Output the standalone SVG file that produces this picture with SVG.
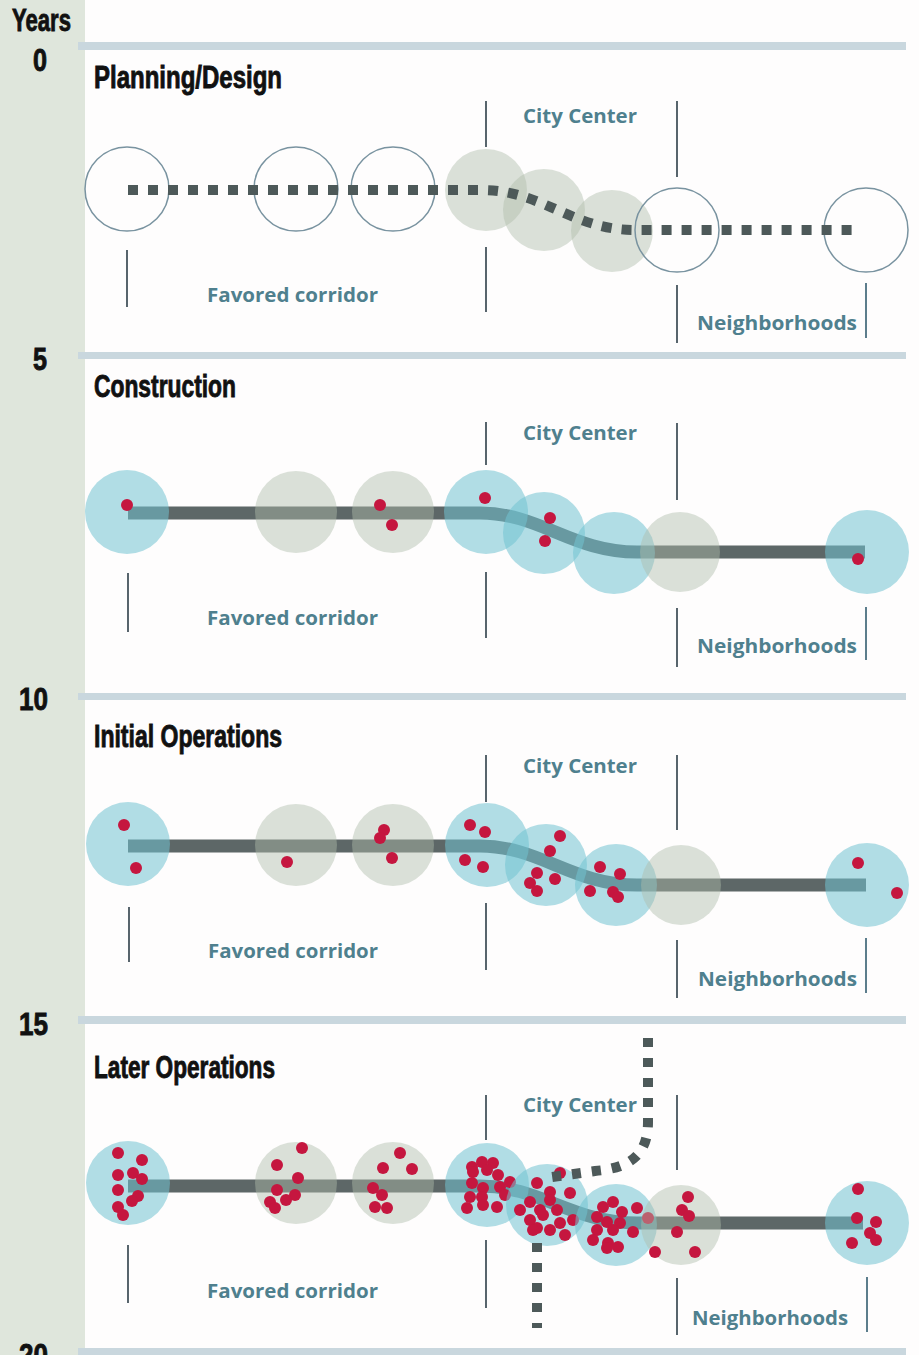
<svg xmlns="http://www.w3.org/2000/svg" xmlns:xlink="http://www.w3.org/1999/xlink" width="919" height="1355" viewBox="0 0 919 1355">
<style>
.title{font-family:"Liberation Sans Narrow","Liberation Sans",Arial,sans-serif;font-weight:bold;font-size:32px;fill:#111;stroke:#111;stroke-width:0.9}
.yr{font-family:"Liberation Sans Narrow","Liberation Sans",Arial,sans-serif;font-weight:bold;font-size:32px;fill:#111;stroke:#111;stroke-width:0.9}
.lbl{font-family:"Open Sans","Liberation Sans",sans-serif;font-weight:700;font-size:19px;fill:#4f808e}
.bar{fill:#c9d7de}
.vl{stroke:#2f3f49;stroke-width:1.6;fill:none}
.vr{stroke:#5c7d8c;stroke-width:2;fill:none}
.ring{fill:none;stroke:#7993a0;stroke-width:1.5}
.blue{fill:#71c3d2;fill-opacity:0.55}
.grey{fill:#b0bdaa;fill-opacity:0.45}
.dot{fill:#c5163f}
.track{fill:none;stroke:#5d6767;stroke-width:13}
.dash{fill:none;stroke:#4d5959;stroke-width:10;stroke-dasharray:10 10}
.dashv{fill:none;stroke:#4d5959;stroke-width:10;stroke-dasharray:9 11}
</style>
<rect x="0" y="0" width="919" height="1355" fill="#fefdfd"/>
<rect x="0" y="0" width="85" height="1355" fill="#dfe6dc"/>

<g id="timeline">
<text class="yr" x="12" y="31" textLength="59" lengthAdjust="spacingAndGlyphs">Years</text>
<text class="yr" x="33" y="71" textLength="14" lengthAdjust="spacingAndGlyphs">0</text>
<text class="yr" x="33" y="370" textLength="14" lengthAdjust="spacingAndGlyphs">5</text>
<text class="yr" x="19" y="710" textLength="29" lengthAdjust="spacingAndGlyphs">10</text>
<text class="yr" x="19" y="1035" textLength="29" lengthAdjust="spacingAndGlyphs">15</text>
<text class="yr" x="19" y="1366" textLength="29" lengthAdjust="spacingAndGlyphs">20</text>
</g>

<g id="bars">
<rect class="bar" x="78" y="42" width="828" height="8"/>
<rect class="bar" x="78" y="352" width="828" height="7"/>
<rect class="bar" x="78" y="693" width="828" height="7"/>
<rect class="bar" x="78" y="1016" width="828" height="8"/>
<rect class="bar" x="78" y="1348" width="828" height="7"/>
</g>

<!-- Panel 1: Planning/Design -->
<g id="panel1">
<text class="title" x="94" y="88" textLength="188" lengthAdjust="spacingAndGlyphs">Planning/Design</text>
<text class="lbl" x="523" y="123" textLength="114" lengthAdjust="spacingAndGlyphs">City Center</text>
<text class="lbl" x="207" y="302" textLength="171" lengthAdjust="spacingAndGlyphs">Favored corridor</text>
<text class="lbl" x="697" y="330" textLength="160" lengthAdjust="spacingAndGlyphs">Neighborhoods</text>
<path class="vl" d="M486,101V147M486,247V312M677,101V177M677,285V343M127,250V307"/>
<path class="vr" d="M866,283V338"/>
<g id="p1-s1"><circle class="ring" cx="127" cy="189" r="42"/></g>
<g id="p1-s2"><circle class="ring" cx="296" cy="189" r="42"/></g>
<g id="p1-s3"><circle class="ring" cx="393" cy="189" r="42"/></g>
<g id="p1-s4"><circle class="grey" cx="486" cy="190" r="41"/></g>
<g id="p1-s5"><circle class="grey" cx="544" cy="210" r="41"/></g>
<g id="p1-s6"><circle class="grey" cx="612" cy="231" r="41"/></g>
<g id="p1-s7"><circle class="ring" cx="677" cy="230" r="42"/></g>
<g id="p1-s8"><circle class="ring" cx="866" cy="230" r="42"/></g>
</g>

<g id="connectors">
<path class="dash" d="M128,190H482C542,190 572,230 635,230H860"/>
<path class="track" d="M128,513H480C540,513 572,552 637,552H865"/>
<path class="track" d="M128,846H480C540,846 572,885 637,885H866"/>
<path class="track" d="M128,1186H480C540,1186 572,1223 637,1223H863"/>
</g>

<!-- Panel 2: Construction -->
<g id="panel2">
<text class="title" x="94" y="397" textLength="142" lengthAdjust="spacingAndGlyphs">Construction</text>
<text class="lbl" x="523" y="440" textLength="114" lengthAdjust="spacingAndGlyphs">City Center</text>
<text class="lbl" x="207" y="625" textLength="171" lengthAdjust="spacingAndGlyphs">Favored corridor</text>
<text class="lbl" x="697" y="653" textLength="160" lengthAdjust="spacingAndGlyphs">Neighborhoods</text>
<path class="vl" d="M486,422V465M486,572V638M677,423V500M677,608V667M128,573V632"/>
<path class="vr" d="M866,607V660"/>
<g id="p2-s1"><circle class="blue" cx="127" cy="512" r="42"/><circle class="dot" cx="127" cy="505" r="6"/></g>
<g id="p2-s2"><circle class="grey" cx="296" cy="512" r="41"/></g>
<g id="p2-s3"><circle class="grey" cx="393" cy="512" r="41"/><circle class="dot" cx="380" cy="505" r="6"/><circle class="dot" cx="392" cy="525" r="6"/></g>
<g id="p2-s4"><circle class="blue" cx="486" cy="512" r="42"/><circle class="dot" cx="485" cy="498" r="6"/></g>
<g id="p2-s5"><circle class="blue" cx="544" cy="533" r="41"/><circle class="dot" cx="550" cy="518" r="6"/><circle class="dot" cx="545" cy="541" r="6"/></g>
<g id="p2-s6"><circle class="blue" cx="614" cy="553" r="41"/></g>
<g id="p2-s7"><circle class="grey" cx="680" cy="552" r="40"/></g>
<g id="p2-s8"><circle class="blue" cx="867" cy="552" r="42"/><circle class="dot" cx="858" cy="559" r="6"/></g>
</g>

<!-- Panel 3: Initial Operations -->
<g id="panel3">
<text class="title" x="94" y="747" textLength="188" lengthAdjust="spacingAndGlyphs">Initial Operations</text>
<text class="lbl" x="523" y="773" textLength="114" lengthAdjust="spacingAndGlyphs">City Center</text>
<text class="lbl" x="208" y="958" textLength="170" lengthAdjust="spacingAndGlyphs">Favored corridor</text>
<text class="lbl" x="698" y="986" textLength="159" lengthAdjust="spacingAndGlyphs">Neighborhoods</text>
<path class="vl" d="M486,755V802M486,903V970M677,755V830M677,940V998M129,907V962"/>
<path class="vr" d="M866,938V993"/>
<g id="p3-s1"><circle class="blue" cx="128" cy="844" r="42"/><circle class="dot" cx="124" cy="825" r="6"/><circle class="dot" cx="136" cy="868" r="6"/></g>
<g id="p3-s2"><circle class="grey" cx="296" cy="845" r="41"/><circle class="dot" cx="287" cy="862" r="6"/></g>
<g id="p3-s3"><circle class="grey" cx="393" cy="845" r="41"/><circle class="dot" cx="384" cy="830" r="6"/><circle class="dot" cx="380" cy="838" r="6"/><circle class="dot" cx="392" cy="858" r="6"/></g>
<g id="p3-s4"><circle class="blue" cx="487" cy="845" r="42"/><circle class="dot" cx="470" cy="825" r="6"/><circle class="dot" cx="485" cy="832" r="6"/><circle class="dot" cx="465" cy="860" r="6"/><circle class="dot" cx="483" cy="867" r="6"/></g>
<g id="p3-s5"><circle class="blue" cx="546" cy="865" r="41"/><circle class="dot" cx="560" cy="836" r="6"/><circle class="dot" cx="550" cy="851" r="6"/><circle class="dot" cx="537" cy="873" r="6"/><circle class="dot" cx="530" cy="883" r="6"/><circle class="dot" cx="537" cy="891" r="6"/><circle class="dot" cx="555" cy="879" r="6"/></g>
<g id="p3-s6"><circle class="blue" cx="616" cy="885" r="41"/><circle class="dot" cx="600" cy="867" r="6"/><circle class="dot" cx="620" cy="874" r="6"/><circle class="dot" cx="590" cy="891" r="6"/><circle class="dot" cx="613" cy="892" r="6"/><circle class="dot" cx="618" cy="897" r="6"/></g>
<g id="p3-s7"><circle class="grey" cx="681" cy="885" r="40"/></g>
<g id="p3-s8"><circle class="blue" cx="867" cy="885" r="42"/><circle class="dot" cx="858" cy="863" r="6"/><circle class="dot" cx="897" cy="893" r="6"/></g>
</g>

<!-- Panel 4: Later Operations -->
<g id="panel4">
<text class="title" x="94" y="1078" textLength="181" lengthAdjust="spacingAndGlyphs">Later Operations</text>
<text class="lbl" x="523" y="1112" textLength="114" lengthAdjust="spacingAndGlyphs">City Center</text>
<text class="lbl" x="207" y="1298" textLength="171" lengthAdjust="spacingAndGlyphs">Favored corridor</text>
<text class="lbl" x="692" y="1325" textLength="156" lengthAdjust="spacingAndGlyphs">Neighborhoods</text>
<path class="vl" d="M486,1095V1140M486,1240V1308M677,1095V1170M677,1278V1335M128,1245V1303"/>
<path class="vr" d="M867,1277V1332"/>
<g id="p4-s1"><circle class="blue" cx="128" cy="1183" r="42"/>
<circle class="dot" cx="118" cy="1153" r="6"/><circle class="dot" cx="142" cy="1160" r="6"/><circle class="dot" cx="118" cy="1175" r="6"/><circle class="dot" cx="133" cy="1173" r="6"/><circle class="dot" cx="142" cy="1179" r="6"/><circle class="dot" cx="118" cy="1190" r="6"/><circle class="dot" cx="138" cy="1196" r="6"/><circle class="dot" cx="132" cy="1201" r="6"/><circle class="dot" cx="118" cy="1207" r="6"/><circle class="dot" cx="123" cy="1215" r="6"/></g>
<g id="p4-s2"><circle class="grey" cx="296" cy="1183" r="41"/>
<circle class="dot" cx="302" cy="1148" r="6"/><circle class="dot" cx="277" cy="1165" r="6"/><circle class="dot" cx="298" cy="1178" r="6"/><circle class="dot" cx="277" cy="1190" r="6"/><circle class="dot" cx="295" cy="1195" r="6"/><circle class="dot" cx="286" cy="1200" r="6"/><circle class="dot" cx="270" cy="1202" r="6"/><circle class="dot" cx="275" cy="1208" r="6"/></g>
<g id="p4-s3"><circle class="grey" cx="393" cy="1183" r="41"/>
<circle class="dot" cx="400" cy="1153" r="6"/><circle class="dot" cx="383" cy="1168" r="6"/><circle class="dot" cx="412" cy="1169" r="6"/><circle class="dot" cx="373" cy="1188" r="6"/><circle class="dot" cx="382" cy="1195" r="6"/><circle class="dot" cx="375" cy="1207" r="6"/><circle class="dot" cx="387" cy="1208" r="6"/></g>
<g id="p4-s4"><circle class="blue" cx="487" cy="1185" r="42"/>
<circle class="dot" cx="472" cy="1167" r="6"/><circle class="dot" cx="482" cy="1162" r="6"/><circle class="dot" cx="493" cy="1163" r="6"/><circle class="dot" cx="473" cy="1172" r="6"/><circle class="dot" cx="487" cy="1170" r="6"/><circle class="dot" cx="498" cy="1175" r="6"/><circle class="dot" cx="510" cy="1182" r="6"/><circle class="dot" cx="472" cy="1183" r="6"/><circle class="dot" cx="483" cy="1188" r="6"/><circle class="dot" cx="500" cy="1187" r="6"/><circle class="dot" cx="470" cy="1197" r="6"/><circle class="dot" cx="482" cy="1197" r="6"/><circle class="dot" cx="505" cy="1195" r="6"/><circle class="dot" cx="467" cy="1208" r="6"/><circle class="dot" cx="483" cy="1205" r="6"/><circle class="dot" cx="497" cy="1207" r="6"/></g>
<g id="p4-s5"><circle class="blue" cx="547" cy="1205" r="41"/>
<circle class="dot" cx="560" cy="1173" r="6"/><circle class="dot" cx="537" cy="1183" r="6"/><circle class="dot" cx="550" cy="1192" r="6"/><circle class="dot" cx="570" cy="1193" r="6"/><circle class="dot" cx="530" cy="1202" r="6"/><circle class="dot" cx="550" cy="1200" r="6"/><circle class="dot" cx="520" cy="1210" r="6"/><circle class="dot" cx="540" cy="1210" r="6"/><circle class="dot" cx="557" cy="1210" r="6"/><circle class="dot" cx="543" cy="1215" r="6"/><circle class="dot" cx="530" cy="1220" r="6"/><circle class="dot" cx="560" cy="1223" r="6"/><circle class="dot" cx="573" cy="1220" r="6"/><circle class="dot" cx="537" cy="1228" r="6"/><circle class="dot" cx="550" cy="1230" r="6"/><circle class="dot" cx="533" cy="1230" r="6"/><circle class="dot" cx="565" cy="1235" r="6"/></g>
<g id="p4-s6"><circle class="blue" cx="616" cy="1225" r="41"/>
<circle class="dot" cx="603" cy="1207" r="6"/><circle class="dot" cx="613" cy="1202" r="6"/><circle class="dot" cx="622" cy="1212" r="6"/><circle class="dot" cx="637" cy="1208" r="6"/><circle class="dot" cx="648" cy="1218" r="6"/><circle class="dot" cx="597" cy="1217" r="6"/><circle class="dot" cx="607" cy="1222" r="6"/><circle class="dot" cx="620" cy="1223" r="6"/><circle class="dot" cx="633" cy="1232" r="6"/><circle class="dot" cx="597" cy="1230" r="6"/><circle class="dot" cx="613" cy="1230" r="6"/><circle class="dot" cx="593" cy="1240" r="6"/><circle class="dot" cx="608" cy="1243" r="6"/><circle class="dot" cx="618" cy="1247" r="6"/><circle class="dot" cx="607" cy="1248" r="6"/></g>
<g id="p4-s7"><circle class="grey" cx="681" cy="1225" r="40"/>
<circle class="dot" cx="688" cy="1197" r="6"/><circle class="dot" cx="682" cy="1210" r="6"/><circle class="dot" cx="689" cy="1216" r="6"/><circle class="dot" cx="677" cy="1232" r="6"/><circle class="dot" cx="655" cy="1252" r="6"/><circle class="dot" cx="695" cy="1252" r="6"/></g>
<g id="p4-s8"><circle class="blue" cx="867" cy="1223" r="42"/>
<circle class="dot" cx="858" cy="1189" r="6"/><circle class="dot" cx="857" cy="1218" r="6"/><circle class="dot" cx="876" cy="1222" r="6"/><circle class="dot" cx="870" cy="1233" r="6"/><circle class="dot" cx="876" cy="1240" r="6"/><circle class="dot" cx="852" cy="1243" r="6"/></g>
<g id="p4-extensions">
<path class="dashv" d="M648,1038V1122C648,1155 630,1168 595,1171L552,1177"/>
<path class="dashv" d="M537,1243V1328"/>
</g>
</g>
</svg>
